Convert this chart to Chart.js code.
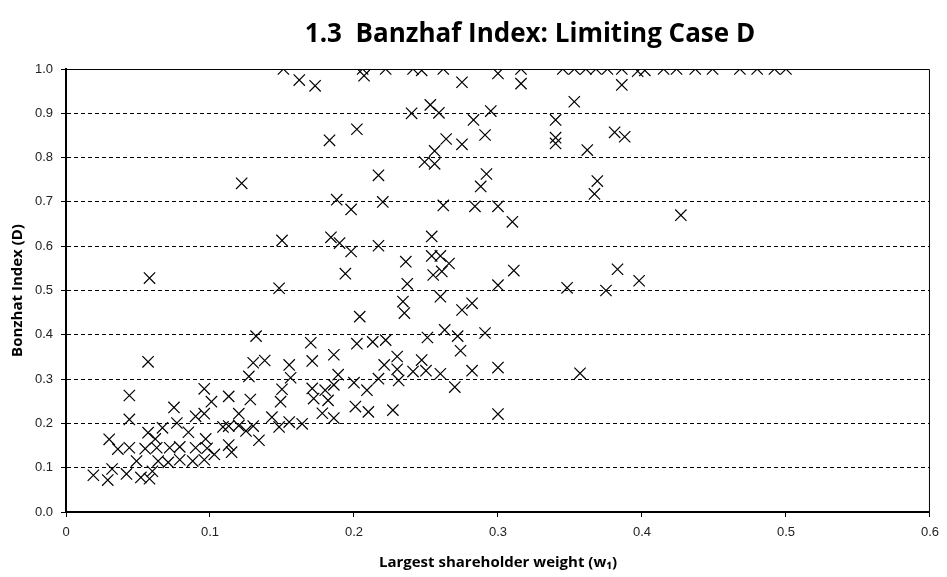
<!DOCTYPE html>
<html>
<head>
<meta charset="utf-8">
<script src="https://cdn.jsdelivr.net/npm/chart.js@4.4.0/dist/chart.umd.min.js"></script>
<style>
  html, body { margin: 0; padding: 0; background: #fff; }
  #wrap { width: 947px; height: 577px; position: relative; }
</style>
</head>
<body>
<div id="wrap"><canvas id="chartBanzhaf"></canvas></div>
<script>
const chartTitle = "1.3  Banzhaf Index: Limiting Case D";
const xTitle = "Largest shareholder weight (w\u2081)";
const yTitle = "Bonzhat Index (D)";

const xTicks = [0, 0.1, 0.2, 0.3, 0.4, 0.5, 0.6];
const xTickLabels = ["0", "0.1", "0.2", "0.3", "0.4", "0.5", "0.6"];
const yTicks = [0, 0.1, 0.2, 0.3, 0.4, 0.5, 0.6, 0.7, 0.8, 0.9, 1.0];
const yTickLabels = ["0.0", "0.1", "0.2", "0.3", "0.4", "0.5", "0.6", "0.7", "0.8", "0.9", "1.0"];

// largest shareholder weight (w1)
const weights = [
  // top, near 1.0
  0.151, 0.162, 0.173, 0.206, 0.207, 0.222, 0.241, 0.247, 0.262, 0.275,
  0.300, 0.316, 0.316, 0.345, 0.353, 0.361, 0.368, 0.376, 0.386, 0.386,
  0.397, 0.402, 0.415, 0.424, 0.437, 0.449, 0.468, 0.480, 0.492, 0.500,
  // 0.8 - 0.93
  0.240, 0.253, 0.259, 0.283, 0.295, 0.353, 0.340, 0.202, 0.183, 0.264,
  0.275, 0.291, 0.256, 0.249, 0.256, 0.340, 0.340, 0.381, 0.388, 0.362,
  // 0.65 - 0.77
  0.217, 0.292, 0.122, 0.288, 0.369, 0.367, 0.188, 0.198, 0.220, 0.262,
  0.284, 0.300, 0.310, 0.427,
  // 0.5 - 0.63
  0.184, 0.190, 0.198, 0.217, 0.254, 0.150, 0.236, 0.254, 0.260, 0.266,
  0.261, 0.194, 0.237, 0.300, 0.311, 0.348, 0.375, 0.383, 0.398, 0.058,
  0.148, 0.255,
  // 0.38 - 0.49
  0.234, 0.235, 0.260, 0.275, 0.282, 0.204, 0.263, 0.272, 0.251, 0.291,
  0.132, 0.170, 0.222, 0.213, 0.202,
  // 0.3 - 0.37
  0.274, 0.186, 0.230, 0.247, 0.171, 0.130, 0.138, 0.155, 0.057, 0.221,
  0.230, 0.241, 0.250, 0.260, 0.282, 0.300, 0.357, 0.189, 0.127, 0.156,
  // 0.2 - 0.3
  0.200, 0.217, 0.231, 0.209, 0.270, 0.186, 0.171, 0.180, 0.172, 0.182,
  0.201, 0.210, 0.227, 0.300, 0.178, 0.186, 0.164, 0.096, 0.101, 0.113,
  0.128, 0.150, 0.149, 0.096, 0.120, 0.143, 0.044, 0.044, 0.075, 0.090,
  // 0.1 - 0.2
  0.109, 0.148, 0.130, 0.155, 0.125, 0.113, 0.120, 0.113, 0.134, 0.098,
  0.057, 0.067, 0.077, 0.030, 0.036, 0.044, 0.055, 0.063, 0.072, 0.079,
  0.090, 0.097, 0.115, 0.085, 0.062, 0.049, 0.064, 0.071, 0.079, 0.088,
  0.096, 0.103,
  // below 0.1
  0.019, 0.029, 0.032, 0.042, 0.052, 0.060, 0.058
];

// banzhaf index (D)
const banzhaf = [
  1.000, 0.975, 0.962, 1.000, 0.985, 1.000, 1.000, 0.997, 1.000, 0.970,
  0.990, 1.000, 0.967, 1.000, 1.000, 1.000, 1.000, 1.000, 1.000, 0.964,
  0.995, 0.997, 1.000, 1.000, 1.000, 1.000, 1.000, 1.000, 1.000, 1.000,

  0.900, 0.919, 0.901, 0.885, 0.905, 0.926, 0.885, 0.864, 0.839, 0.842,
  0.830, 0.851, 0.815, 0.790, 0.786, 0.845, 0.832, 0.857, 0.847, 0.817,

  0.760, 0.763, 0.742, 0.735, 0.747, 0.718, 0.705, 0.683, 0.700, 0.692,
  0.690, 0.690, 0.655, 0.670,

  0.620, 0.607, 0.588, 0.601, 0.622, 0.613, 0.565, 0.578, 0.578, 0.561,
  0.543, 0.538, 0.515, 0.512, 0.545, 0.506, 0.500, 0.548, 0.522, 0.528,
  0.505, 0.535,

  0.475, 0.449, 0.486, 0.456, 0.471, 0.441, 0.411, 0.397, 0.394, 0.404,
  0.397, 0.382, 0.388, 0.384, 0.380,

  0.364, 0.355, 0.351, 0.343, 0.341, 0.337, 0.342, 0.332, 0.339, 0.332,
  0.322, 0.317, 0.319, 0.312, 0.319, 0.326, 0.313, 0.310, 0.306, 0.303,

  0.292, 0.301, 0.297, 0.275, 0.282, 0.287, 0.279, 0.275, 0.256, 0.252,
  0.238, 0.226, 0.230, 0.221, 0.223, 0.212, 0.199, 0.278, 0.249, 0.261,
  0.254, 0.277, 0.249, 0.222, 0.222, 0.214, 0.263, 0.209, 0.236, 0.216,

  0.192, 0.192, 0.194, 0.203, 0.183, 0.194, 0.195, 0.151, 0.162, 0.144,
  0.179, 0.190, 0.201, 0.164, 0.142, 0.145, 0.143, 0.145, 0.145, 0.147,
  0.145, 0.165, 0.135, 0.180, 0.165, 0.115, 0.115, 0.112, 0.118, 0.115,
  0.118, 0.130,

  0.083, 0.072, 0.097, 0.086, 0.078, 0.092, 0.075
];

const points = weights.map((w, i) => ({ x: w, y: banzhaf[i] }));

const fontTicks = { family: "'Liberation Sans', Arial, sans-serif", size: 13 };
const fontTitles = { family: "'Open Sans', 'Liberation Sans', sans-serif", size: 15, weight: "bold" };

// title + top/right frame lines
const framePlugin = {
  id: "frame",
  afterDraw(chart) {
    const { ctx, chartArea: a } = chart;
    ctx.save();
    ctx.strokeStyle = "#000";
    ctx.lineWidth = 1;
    ctx.beginPath();
    ctx.moveTo(a.left, a.top + 0.5);
    ctx.lineTo(a.right - 0.5, a.top + 0.5);
    ctx.lineTo(a.right - 0.5, a.bottom);
    ctx.stroke();
    ctx.fillStyle = "#000";
    ctx.font = "bold 26px 'Open Sans', 'Liberation Sans', sans-serif";
    ctx.textAlign = "center";
    ctx.textBaseline = "middle";
    ctx.fillText(chartTitle, 530, 35);
    ctx.restore();
  }
};

const ctx1 = document.getElementById("chartBanzhaf");
const chartBanzhaf = new Chart(ctx1, {
  type: "scatter",
  data: {
    datasets: [
      {
        label: "Banzhaf index",
        data: points,
        pointStyle: "crossRot",
        pointRadius: 8,
        pointHoverRadius: 8,
        borderColor: "#000",
        backgroundColor: "#000",
        borderWidth: 1.2,
      },
    ],
  },
  options: {
    responsive: true,
    maintainAspectRatio: false,
    animation: false,
    layout: { padding: { top: 69, right: 13, left: 0, bottom: 0 } },
    plugins: {
      legend: { display: false },
      tooltip: { enabled: false },
      title: { display: false },
    },
    scales: {
      x: {
        type: "linear",
        min: 0,
        max: 0.6,
        afterFit: (s) => { s.height = 65; },
        afterBuildTicks: (s) => { s.ticks = xTicks.map((v) => ({ value: v })); },
        ticks: {
          color: "#222",
          font: fontTicks,
          padding: 8,
          maxRotation: 0,
          callback: (v) => xTickLabels[xTicks.indexOf(v)],
        },
        grid: {
          drawOnChartArea: false,
          drawTicks: true,
          tickLength: 5,
          color: "#000",
        },
        border: { display: true, color: "#000", width: 2 },
        title: {
          display: true,
          text: xTitle,
          color: "#000",
          font: fontTitles,
          padding: { top: 0, bottom: 5 },
        },
      },
      y: {
        type: "linear",
        min: 0,
        max: 1,
        afterFit: (s) => { s.width = 66; },
        afterBuildTicks: (s) => { s.ticks = yTicks.map((v) => ({ value: v })); },
        ticks: {
          color: "#222",
          font: fontTicks,
          padding: 8,
          callback: (v) => yTickLabels[yTicks.findIndex((t) => Math.abs(t - v) < 1e-9)],
        },
        grid: {
          drawTicks: true,
          tickLength: 5,
          lineWidth: 1,
          color: (c) => (c.tick && (c.tick.value === 0 || c.tick.value === 1) ? "rgba(0,0,0,0)" : "#000"),
          tickColor: "#000",
        },
        border: { display: true, color: "#000", width: 2, dash: [4, 3] },
        title: {
          display: true,
          text: yTitle,
          color: "#000",
          font: fontTitles,
          padding: { top: 9, bottom: 0 },
        },
      },
    },
  },
  plugins: [framePlugin],
});
</script>
</body>
</html>
